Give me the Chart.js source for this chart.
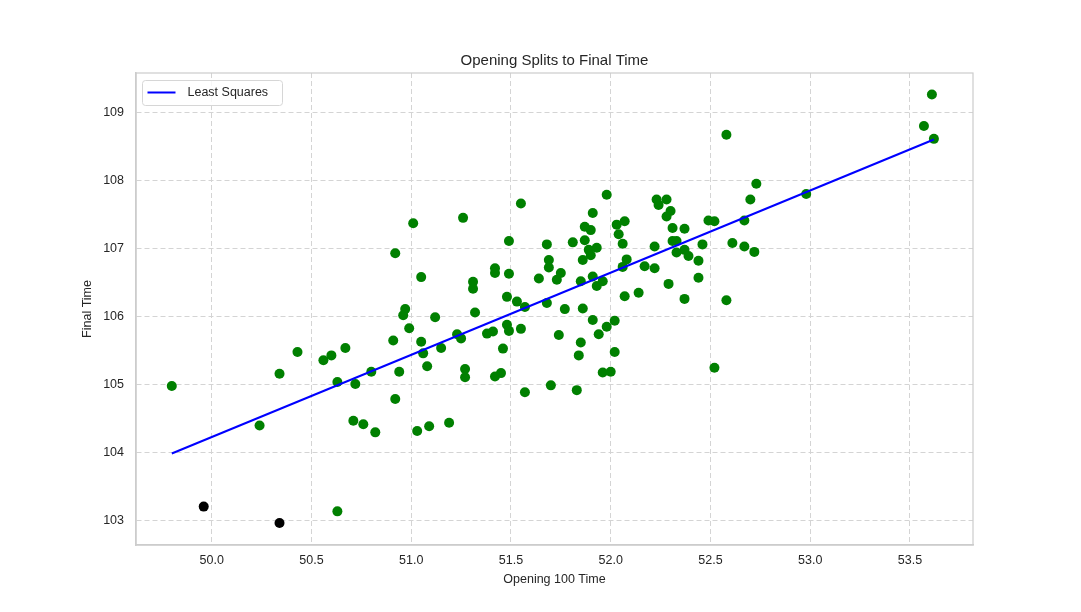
<!DOCTYPE html>
<html>
<head>
<meta charset="utf-8">
<script src="https://cdn.jsdelivr.net/npm/chart.js@4/dist/chart.umd.min.js"></script>
<style>
  body { margin: 0; background: #fff; }
  #wrap { width: 1081px; height: 612px; }
</style>
</head>
<body>
<div id="wrap"><canvas id="myChart"></canvas></div>
<script>
// opening 100 split vs final time (green = used in fit)
const splits = [49.80, 50.24, 50.34, 50.43, 50.56, 50.60, 50.67, 50.63, 50.63, 50.71,
  50.72, 50.76, 50.80, 50.82, 50.92, 50.91, 50.92, 50.94, 50.96, 50.97,
  50.99, 51.01, 51.05, 51.05, 51.06, 51.08, 51.03, 51.09, 51.12, 51.15,
  51.19, 51.23, 51.25, 51.26, 51.27, 51.27, 51.31, 51.31, 51.32, 51.38,
  51.41, 51.42, 51.42, 51.42, 51.45, 51.46, 51.48, 51.49, 51.49, 51.48,
  51.49, 51.53, 51.55, 51.55, 51.57, 51.57, 51.64, 51.68, 51.68, 51.69,
  51.69, 51.70, 51.73, 51.75, 51.74, 51.77, 51.81, 51.83, 51.84, 51.85,
  51.85, 51.86, 51.86, 51.87, 51.87, 51.89, 51.90, 51.90, 51.91, 51.91,
  51.91, 51.93, 51.93, 51.94, 51.96, 51.96, 51.98, 51.98, 52.00, 52.02,
  52.02, 52.03, 52.04, 52.06, 52.07, 52.06, 52.07, 52.08, 52.14, 52.17,
  52.22, 52.23, 52.24, 52.22, 52.28, 52.28, 52.30, 52.29, 52.31, 52.31,
  52.33, 52.33, 52.37, 52.37, 52.39, 52.37, 52.44, 52.44, 52.46, 52.49,
  52.52, 52.52, 52.58, 52.58, 52.61, 52.67, 52.67, 52.70, 52.72, 52.73,
  52.98, 53.57, 53.61, 53.62]
const finals = [104.98, 104.40, 105.16, 105.48, 105.36, 105.43, 105.54, 105.04, 103.14, 104.47,
  105.01, 104.42, 105.19, 104.30, 106.93, 105.65, 104.79, 105.19, 106.02, 106.11,
  105.83, 107.37, 106.58, 105.63, 105.46, 105.27, 104.32, 104.39, 105.99, 105.54,
  104.44, 105.74, 105.68, 107.45, 105.23, 105.11, 106.51, 106.41, 106.06, 105.75,
  105.78, 106.71, 106.64, 105.12, 105.17, 105.53, 106.29, 107.11, 106.63, 105.88,
  105.79, 106.22, 105.82, 107.66, 106.14, 104.89, 106.56, 107.06, 106.20, 106.83,
  106.72, 104.99, 106.54, 106.64, 105.73, 106.11, 107.09, 104.92, 105.43, 105.62,
  106.52, 106.12, 106.83, 107.12, 107.32, 106.98, 106.90, 107.27, 107.52, 106.59,
  105.95, 106.45, 107.01, 105.74, 106.52, 105.18, 105.85, 107.79, 105.19, 105.48,
  105.94, 107.35, 107.21, 106.73, 106.30, 107.07, 107.40, 106.84, 106.35, 106.74,
  107.03, 107.72, 107.64, 106.71, 107.47, 107.72, 107.55, 106.48, 107.11, 107.30,
  107.11, 106.94, 107.29, 106.98, 106.89, 106.26, 106.82, 106.57, 107.06, 107.41,
  107.40, 105.25, 108.67, 106.24, 107.08, 107.41, 107.03, 107.72, 106.95, 107.95,
  107.80, 108.80, 109.26, 108.61]

// the two black ones
const outlierSplits = [49.96, 50.34]
const outlierFinals = [103.21, 102.97]

// least squares line ends
const fitX = [49.80, 53.62]
const fitY = [103.99, 108.60]

const xTicks = [50.0, 50.5, 51.0, 51.5, 52.0, 52.5, 53.0, 53.5]
const yTicks = [103, 104, 105, 106, 107, 108, 109]

function toPoints(xs, ys) {
    const pts = []
    for (let i = 0; i < xs.length; i++) {
        pts.push({ x: xs[i], y: ys[i] })
    }
    return pts
}

const textColor = '#262626'
Chart.defaults.font.family = '"Liberation Sans", Arial, sans-serif'
Chart.defaults.color = textColor

// legend box inside the plot, top left, like matplotlib
const innerLegend = {
    id: 'innerLegend',
    afterDraw(chart) {
        const { ctx, chartArea } = chart
        const ds = chart.data.datasets[0]
        const left = chartArea.left + 6.5, top = chartArea.top + 7.5
        const w = 140, h = 25
        ctx.save()
        ctx.beginPath()
        ctx.roundRect(left, top, w, h, 3)
        ctx.fillStyle = 'rgba(255,255,255,0.8)'
        ctx.fill()
        ctx.strokeStyle = '#d6d6d6'
        ctx.lineWidth = 1
        ctx.stroke()
        ctx.beginPath()
        ctx.moveTo(left + 5, top + 12)
        ctx.lineTo(left + 33, top + 12)
        ctx.strokeStyle = ds.borderColor
        ctx.lineWidth = 2
        ctx.stroke()
        ctx.fillStyle = textColor
        ctx.font = '12.5px "Liberation Sans", Arial, sans-serif'
        ctx.textBaseline = 'middle'
        ctx.fillText(ds.label, left + 45, top + 12.5)
        ctx.restore()
    }
}

// in v4 border.dash is what dashes the grid lines
const gridStyle = { color: '#d4d4d4', lineWidth: 1, drawTicks: false }
const borderStyle = { color: '#cccccc', width: 1.5, dash: [5, 3] }

new Chart(document.getElementById('myChart'), {
    type: 'scatter',
    data: {
        datasets: [
            {
                type: 'line',
                label: 'Least Squares',
                data: toPoints(fitX, fitY),
                borderColor: '#0000ff',
                borderWidth: 2,
                pointRadius: 0,
                fill: false,
                order: 0
            },
            {
                label: 'splits',
                data: toPoints(splits, finals),
                backgroundColor: '#008000',
                borderColor: '#008000',
                borderWidth: 0,
                pointRadius: 5,
                order: 1
            },
            {
                label: 'outliers',
                data: toPoints(outlierSplits, outlierFinals),
                backgroundColor: '#000000',
                borderColor: '#000000',
                borderWidth: 0,
                pointRadius: 5,
                order: 1
            }
        ]
    },
    options: {
        responsive: true,
        maintainAspectRatio: false,
        animation: false,
        devicePixelRatio: 1,
        layout: { padding: { left: 0, right: 108, top: 0, bottom: 0 } },
        plugins: {
            legend: { display: false },
            tooltip: { enabled: false },
            title: {
                display: true,
                text: 'Opening Splits to Final Time',
                fullSize: false,
                color: textColor,
                font: { size: 15, weight: 'normal' },
                padding: { top: 52, bottom: 3 }
            }
        },
        scales: {
            x: {
                type: 'linear',
                min: 49.6206,
                max: 53.816,
                afterBuildTicks(scale) { scale.ticks = xTicks.map(v => ({ value: v })) },
                afterFit(scale) { scale.height = 67 },
                ticks: {
                    padding: 8,
                    font: { size: 12.5 },
                    color: textColor,
                    callback: v => v.toFixed(1)
                },
                grid: gridStyle,
                border: borderStyle,
                title: {
                    display: true,
                    text: 'Opening 100 Time',
                    color: textColor,
                    font: { size: 12.5 },
                    padding: { top: 0, bottom: 24.5 }
                }
            },
            y: {
                type: 'linear',
                min: 102.646,
                max: 109.577,
                afterBuildTicks(scale) { scale.ticks = yTicks.map(v => ({ value: v })) },
                afterFit(scale) { scale.width = 136 },
                ticks: {
                    padding: 12,
                    font: { size: 12.5 },
                    color: textColor,
                    callback: v => String(v)
                },
                grid: gridStyle,
                border: borderStyle,
                title: {
                    display: true,
                    text: 'Final Time',
                    color: textColor,
                    font: { size: 12.5 },
                    padding: { top: 80.5, bottom: 0 }
                }
            }
        }
    },
    plugins: [
        innerLegend,
        {
            // solid frame round the plot, grid stays dashed
            id: 'frame',
            beforeDatasetsDraw(chart) {
                const { ctx, chartArea: a } = chart
                ctx.save()
                ctx.strokeStyle = '#cccccc'
                ctx.lineWidth = 1.2
                ctx.strokeRect(a.left, a.top, a.right - a.left, a.bottom - a.top)
                ctx.restore()
            }
        }
    ]
});
</script>
</body>
</html>
